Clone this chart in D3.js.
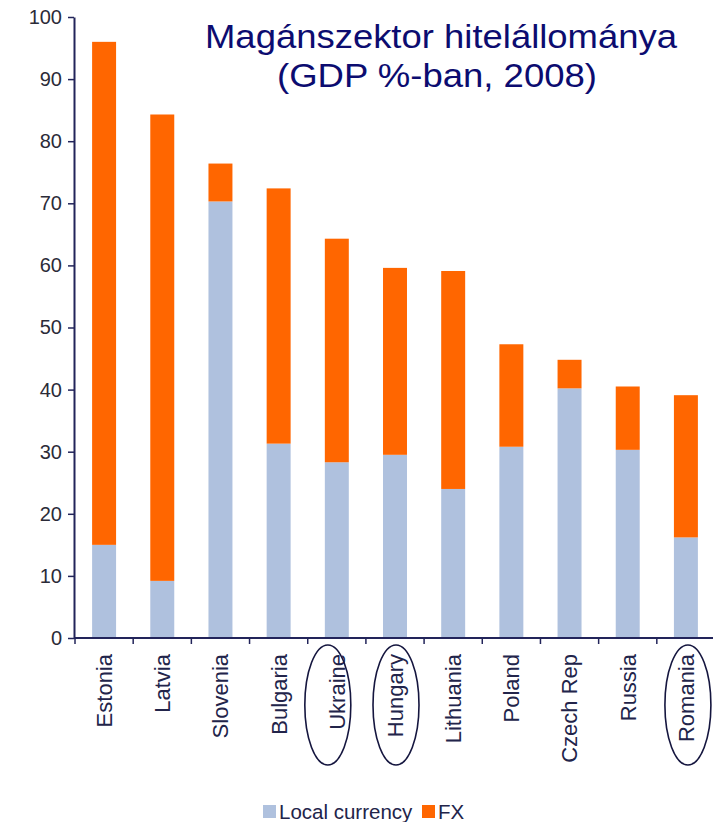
<!DOCTYPE html>
<html>
<head>
<meta charset="utf-8">
<script src="https://cdn.jsdelivr.net/npm/d3@7"></script>
<style>
  html, body { margin: 0; padding: 0; background: #ffffff; }
  svg { display: block; }
</style>
</head>
<body>
<svg id="chart" width="713" height="822"></svg>
<script>
// Private sector credit stock, % of GDP, 2008 — local currency vs FX
const countries = ["Estonia", "Latvia", "Slovenia", "Bulgaria", "Ukraine", "Hungary",
                   "Lithuania", "Poland", "Czech Rep", "Russia", "Romania"];
const localCurrency = [15.0, 9.2, 70.3, 31.3, 28.3, 29.5, 24.0, 30.8, 40.2, 30.3, 16.2];
const fx            = [81.0, 75.1, 6.1, 41.1, 36.0, 30.1, 35.1, 16.5, 4.6, 10.2, 22.9];
const yTicks = [0, 10, 20, 30, 40, 50, 60, 70, 80, 90, 100];
const seriesNames = ["Local currency", "FX"];
const highlighted = ["Ukraine", "Hungary", "Romania"];
const titleLines = ["Magánszektor hitelállománya", "(GDP %-ban, 2008)"];

const colors = { "Local currency": "#afc1de", "FX": "#ff6600" };
const axisColor = "#22245a";
const navy = "#0c0c70";
const font = "Liberation Sans, Arial, sans-serif";

const svg = d3.select("#chart");

const x = d3.scaleBand()
  .domain(countries)
  .range([75, 715])
  .paddingInner(0.588)
  .paddingOuter(0.294);

const y = d3.scaleLinear().domain([0, 100]).range([638, 17]);

const rows = countries.map((c, i) => ({
  country: c,
  "Local currency": localCurrency[i],
  "FX": fx[i]
}));
const stacked = d3.stack().keys(seriesNames)(rows);

// stacked bars
svg.append("g")
  .selectAll("g")
  .data(stacked)
  .join("g")
  .attr("fill", d => colors[d.key])
  .selectAll("rect")
  .data(d => d)
  .join("rect")
  .attr("x", d => x(d.data.country))
  .attr("width", x.bandwidth())
  .attr("y", d => y(d[1]))
  .attr("height", d => y(d[0]) - y(d[1]));

// y axis
const yAxis = svg.append("g")
  .attr("transform", "translate(74,0)")
  .call(d3.axisLeft(y).tickValues(yTicks).tickSize(6).tickSizeOuter(0).tickPadding(6));
yAxis.select(".domain").attr("stroke", axisColor).attr("stroke-width", 2);
yAxis.selectAll(".tick line").attr("stroke", axisColor).attr("stroke-width", 1.5);
yAxis.selectAll(".tick text")
  .attr("fill", "#2b2b38")
  .attr("font-family", font)
  .attr("font-size", 20);

// x axis: baseline with ticks at category boundaries
const xg = svg.append("g");
xg.append("line")
  .attr("x1", 74).attr("x2", 713)
  .attr("y1", y(0)).attr("y2", y(0))
  .attr("stroke", axisColor).attr("stroke-width", 2);
const step = x.step();
const boundaries = countries.map(c => x(c) - (step - x.bandwidth()) / 2);
boundaries.push(x(countries[countries.length - 1]) + x.bandwidth() + (step - x.bandwidth()) / 2);
xg.selectAll("line.tick")
  .data(boundaries)
  .join("line")
  .attr("class", "tick")
  .attr("x1", d => d).attr("x2", d => d)
  .attr("y1", y(0)).attr("y2", y(0) + 6)
  .attr("stroke", axisColor).attr("stroke-width", 1.5);

// category labels, rotated
xg.selectAll("text.cat")
  .data(countries)
  .join("text")
  .attr("class", "cat")
  .attr("transform", d => `translate(${x(d) + x.bandwidth() / 2},654) rotate(-90)`)
  .attr("text-anchor", "end")
  .attr("dy", "0.36em")
  .attr("fill", "#22244a")
  .attr("font-family", font)
  .attr("font-size", 22)
  .text(d => d);

// ellipses around highlighted countries
const ellipseShift = { "Ukraine": -9, "Hungary": 1, "Romania": 2 };
svg.append("g")
  .selectAll("ellipse")
  .data(highlighted)
  .join("ellipse")
  .attr("cx", d => x(d) + x.bandwidth() / 2 + ellipseShift[d])
  .attr("cy", 705)
  .attr("rx", 23)
  .attr("ry", 60)
  .attr("fill", "none")
  .attr("stroke", "#15163f")
  .attr("stroke-width", 1.6);

// title
const titleWidths = [472, 320];
svg.append("g")
  .selectAll("text")
  .data(titleLines)
  .join("text")
  .attr("x", (d, i) => i === 0 ? 441 : 437)
  .attr("y", (d, i) => i === 0 ? 48 : 87)
  .attr("text-anchor", "middle")
  .attr("fill", navy)
  .attr("font-family", font)
  .attr("font-size", 33)
  .attr("textLength", (d, i) => titleWidths[i])
  .attr("lengthAdjust", "spacingAndGlyphs")
  .text(d => d);

// legend
const legend = svg.append("g").attr("font-family", font);
const legendItems = [
  { key: "Local currency", x: 263 },
  { key: "FX", x: 422 }
];
legend.selectAll("rect")
  .data(legendItems)
  .join("rect")
  .attr("x", d => d.x).attr("y", 805)
  .attr("width", 13).attr("height", 13)
  .attr("fill", d => colors[d.key]);
legend.selectAll("text")
  .data(legendItems)
  .join("text")
  .attr("x", d => d.x + 16).attr("y", 819)
  .attr("fill", "#22244a")
  .attr("font-size", 20.5)
  .text(d => d.key);
</script>
</body>
</html>
